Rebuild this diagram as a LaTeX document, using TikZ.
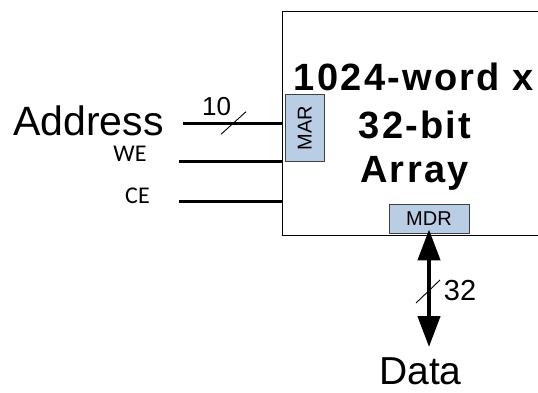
\documentclass[tikz,border=0pt]{standalone}
\usepackage{fontspec}
\setmainfont{Liberation Sans}
\newfontfamily\calfont{Carlito}
\newfontfamily\titlefont[LetterSpace=6]{Liberation Sans}
\usetikzlibrary{arrows.meta}
\definecolor{regfill}{HTML}{B9CDE5}
\definecolor{regdraw}{HTML}{404040}
\tikzset{
  regbox/.style={draw=regdraw, fill=regfill, line width=0.9pt, inner sep=0pt},
  wire/.style={line width=2.6pt},
  busarrow/.style={line width=4.5pt, {Triangle[length=31pt,width=22pt]}-{Triangle[length=31pt,width=22pt]}},
  slash/.style={line width=0.9pt},
  lbl/.style={inner sep=0pt, anchor=base},
  ttl/.style={inner sep=0pt, anchor=base, font=\titlefont\bfseries\fontsize{38}{40}\selectfont},
}
\begin{document}
\begin{tikzpicture}[x=1pt,y=-1pt]
\useasboundingbox (0,0) rectangle (538,392);
% main array box
\node[draw, line width=1.2pt, minimum width=290pt, minimum height=224pt, anchor=north west, inner sep=0pt] (array) at (282,11) {};
% title
\node[ttl] (t1) at (414,90) {1024-word x};
\node[ttl] (t2) at (415,138) {32-bit};
\node[ttl] (t3) at (414.5,182) {Array};
% registers
\node[regbox, rotate=90, minimum width=67.4pt, minimum height=38.5pt, font=\fontsize{20}{22}\selectfont] (mar) at (304.8,128) {MAR};
\node[regbox, minimum width=80pt, minimum height=29pt, font=\fontsize{20}{22}\selectfont] (mdr) at (429,218.5) {MDR};
% labels
\node[lbl, font=\fontsize{41}{44}\selectfont, anchor=base west] (addr) at (13,135) {Address};
\node[lbl, font=\calfont\fontsize{24}{26}\selectfont] (we) at (130,161.7) {WE};
\node[lbl, font=\calfont\fontsize{24}{26}\selectfont] (ce) at (137.5,203) {CE};
\node[lbl, font=\fontsize{39}{42}\selectfont] (data) at (420.5,384.5) {Data};
\node[lbl, font=\fontsize{26}{28}\selectfont] (n10) at (216.7,115) {10};
\node[lbl, font=\fontsize{29}{30}\selectfont] (n32) at (460,300) {32};
% address bus
\draw[wire] (183,123.3) coordinate (astart) -- (astart -| array.west);
\coordinate (aslash) at (233.5,123);
\draw[slash] ([shift={(-12.5,11.3)}]aslash) -- ([shift={(12.5,-11.3)}]aslash);
% WE, CE
\draw[wire] (179,161.7) coordinate (westart) -- (westart -| array.west);
\draw[wire] (179,201.7) coordinate (cestart) -- (cestart -| array.west);
% data bus
\draw[busarrow] ([yshift=4pt]mdr.south) -- (mdr.south |- 0,347) coordinate (dend);
\coordinate (dslash) at (428,291.5);
\draw[slash] ([shift={(-12,11.5)}]dslash) -- ([shift={(12,-11.5)}]dslash);
\end{tikzpicture}
\end{document}
